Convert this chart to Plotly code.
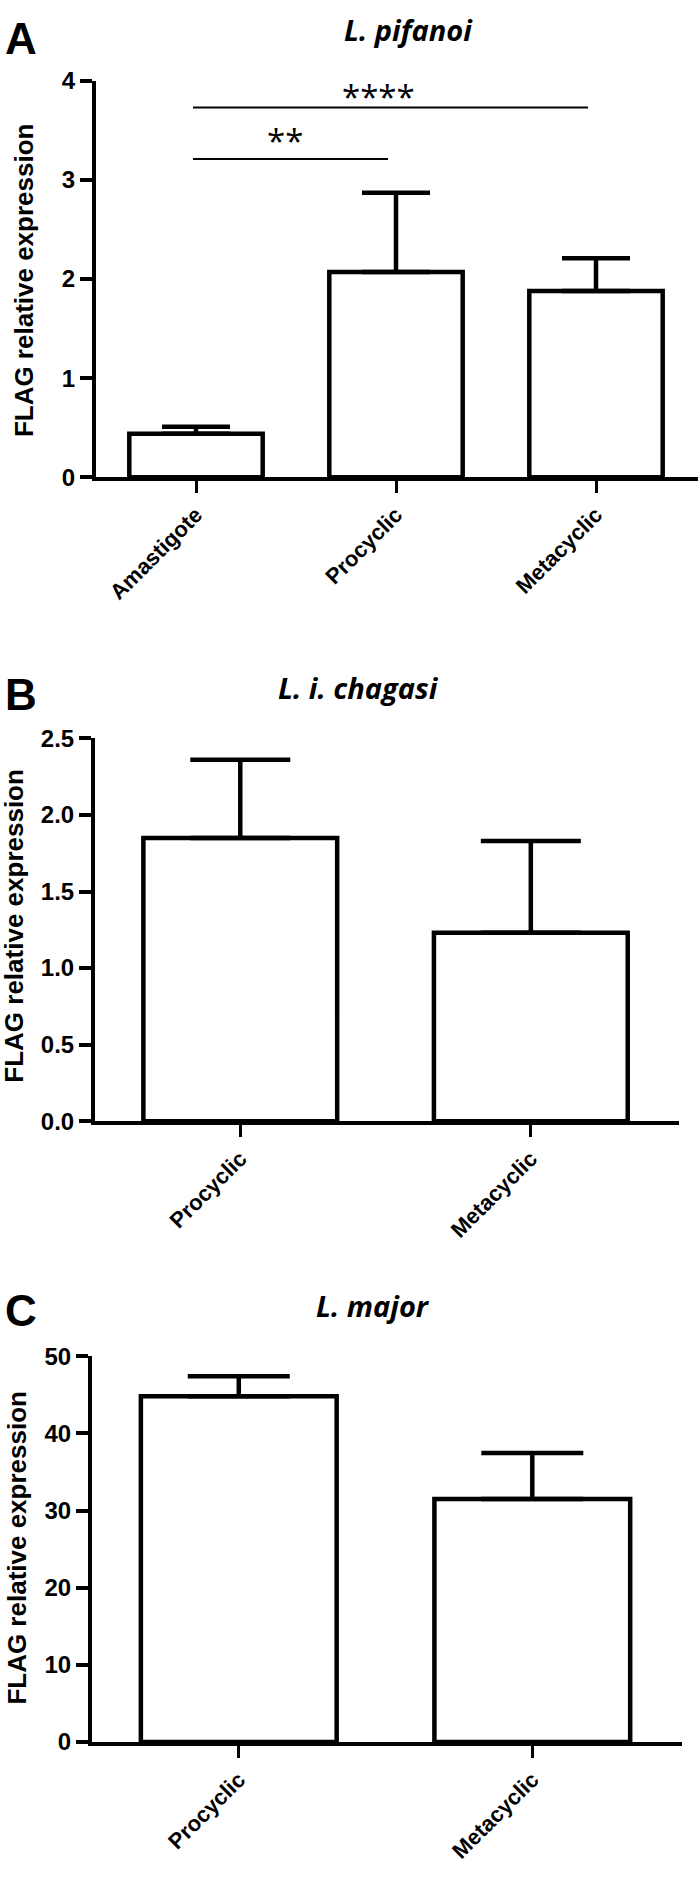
import plotly.graph_objects as go

W, H = 700, 1877

# ---------------- data ----------------
A_categories = ["Amastigote", "Procyclic", "Metacyclic"]
A_means = [0.44, 2.07, 1.88]
A_sem = [0.07, 0.80, 0.33]
A_yticks = [0, 1, 2, 3, 4]
A_yticklabels = ["0", "1", "2", "3", "4"]
A_significance = [(0, 1, 3.21, "**"), (0, 2, 3.73, "****")]

B_categories = ["Procyclic", "Metacyclic"]
B_means = [1.85, 1.23]
B_sem = [0.51, 0.60]
B_yticks = [0.0, 0.5, 1.0, 1.5, 2.0, 2.5]
B_yticklabels = ["0.0", "0.5", "1.0", "1.5", "2.0", "2.5"]

C_categories = ["Procyclic", "Metacyclic"]
C_means = [44.8, 31.5]
C_sem = [2.6, 5.95]
C_yticks = [0, 10, 20, 30, 40, 50]
C_yticklabels = ["0", "10", "20", "30", "40", "50"]

panel_letters = ["A", "B", "C"]
panel_titles = ["L. pifanoi", "L. i. chagasi", "L. major"]
y_title = "FLAG relative expression"

# ---------------- layout helpers (pixel positions) ----------------
def px(x):
    return x / W

def py(y):
    return 1 - y / H

panels = [
    dict(cats=A_categories, means=A_means, sem=A_sem, ticks=A_yticks, labels=A_yticklabels,
         x0=96, x1=698, ytop=67.7, ybot=470, cap=34, letter_y=25, title_x=408, title_y=16,
         ytitle_x=24, ytitle_y=270),
    dict(cats=B_categories, means=B_means, sem=B_sem, ticks=B_yticks, labels=B_yticklabels,
         x0=95, x1=679, ytop=735, ybot=1123.3, cap=50, letter_y=690, title_x=358, title_y=683,
         ytitle_x=14, ytitle_y=925),
    dict(cats=C_categories, means=C_means, sem=C_sem, ticks=C_yticks, labels=C_yticklabels,
         x0=92, x1=682, ytop=1361.7, ybot=1753.3, cap=51, letter_y=1315, title_x=373, title_y=1310,
         ytitle_x=17, ytitle_y=1556),
]

FONT = "Liberation Sans, Arial, sans-serif"
TFONT = "Open Sans, sans-serif"

fig = go.Figure()
annotations = []
shapes = []

for i, p in enumerate(panels):
    sfx = "" if i == 0 else str(i + 1)
    n = len(p["cats"])
    fig.add_trace(go.Bar(
        x=p["cats"], y=p["means"], width=0.667,
        marker=dict(color="white", line=dict(color="black", width=4.5)),
        error_y=dict(type="data", symmetric=False, array=p["sem"], arrayminus=[0] * n,
                     color="black", thickness=4.5, width=p["cap"]),
        xaxis="x" + sfx, yaxis="y" + sfx, showlegend=False,
    ))
    fig.update_layout(**{
        "xaxis" + sfx: dict(
            domain=[px(p["x0"]), px(p["x1"])], anchor="y" + sfx,
            range=[-0.5, n - 0.5 + 0.01], showgrid=False, zeroline=False,
            showline=True, linecolor="black", linewidth=4,
            ticks="outside", ticklen=12, tickwidth=3, tickcolor="black",
            tickangle=-45, tickfont=dict(family=FONT, size=22, color="black", weight="bold"),
        ),
        "yaxis" + sfx: dict(
            domain=[py(p["ybot"]), py(p["ytop"])], anchor="x" + sfx,
            range=[p["ticks"][0], p["ticks"][-1]], showgrid=False, zeroline=False,
            showline=True, linecolor="black", linewidth=4,
            tickvals=p["ticks"], ticktext=p["labels"],
            ticks="outside", ticklen=12, tickwidth=3.5, tickcolor="black",
            tickfont=dict(family=FONT, size=24, color="black", weight="bold"),
        ),
    })
    annotations.append(dict(
        text=panel_letters[i], x=px(3), y=py(p["letter_y"]), xref="paper", yref="paper",
        xanchor="left", yanchor="middle", showarrow=False,
        font=dict(family=FONT, size=44, color="black", weight="bold")))
    annotations.append(dict(
        text=panel_titles[i], x=px(p["title_x"]), y=py(p["title_y"]), xref="paper", yref="paper",
        xanchor="center", yanchor="middle", showarrow=False,
        font=dict(family=TFONT, size=29, color="black", weight="bold", style="italic")))
    annotations.append(dict(
        text=y_title, x=px(p["ytitle_x"]), y=py(p["ytitle_y"]), xref="paper", yref="paper",
        xanchor="center", yanchor="middle", textangle=-90, showarrow=False,
        font=dict(family=FONT, size=26, color="black", weight="bold")))

# significance brackets on panel A
for (a, b, yv, txt), xs, ys in zip(A_significance, [-7, -14], [-6, -14]):
    shapes.append(dict(type="line", xref="x", yref="y", x0=a - 0.015, x1=b - 0.04,
                       y0=yv, y1=yv, line=dict(color="black", width=2)))
    annotations.append(dict(
        text=txt, x=(a + b) / 2 - 0.02, y=yv, xref="x", yref="y", xshift=xs, yshift=ys,
        xanchor="center", yanchor="bottom", showarrow=False,
        font=dict(family=TFONT, size=33, color="black")))

fig.update_layout(
    width=W, height=H, margin=dict(l=0, r=0, t=0, b=0),
    paper_bgcolor="white", plot_bgcolor="white",
    annotations=annotations, shapes=shapes, bargap=0.333,
)

fig.write_html("out.html", config={"displayModeBar": False},
               post_script="document.body.style.margin='0px';")
